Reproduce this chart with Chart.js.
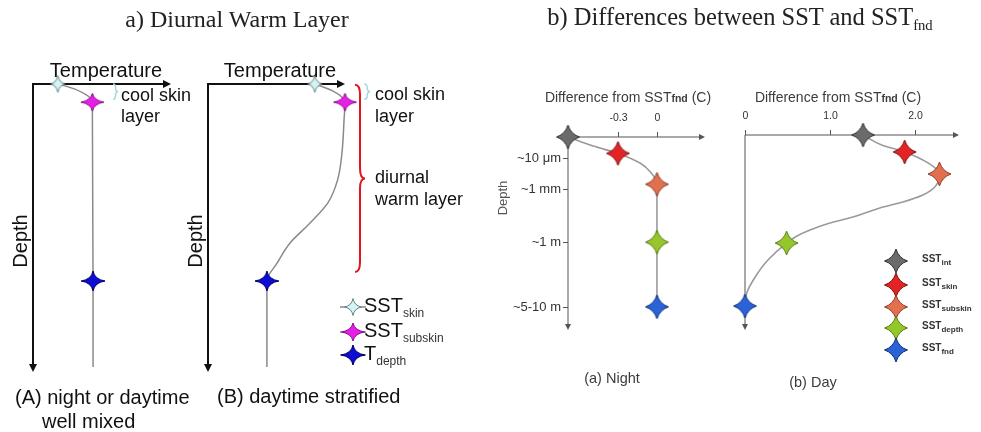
<!DOCTYPE html>
<html>
<head>
<meta charset="utf-8">
<script src="https://cdn.jsdelivr.net/npm/chart.js@4"></script>
<style>
  body { margin: 0; background: #fff; }
  #wrap { position: relative; width: 981px; height: 432px; overflow: hidden; background: #fff; }
  #wrap canvas.plot { position: absolute; left: 0; top: 0; }
  #wrap canvas.soft { filter: blur(0.45px); }
  .t { position: absolute; white-space: nowrap; line-height: 1; font-family: "Liberation Sans", Arial, sans-serif; color: #111; }
  .c { transform: translate(-50%, -50%); }
  .l { transform: translate(0, -50%); }
  .rot { transform: translate(-50%, -50%) rotate(-90deg); }
  .serif { font-family: "Liberation Serif", "Times New Roman", serif; color: #222; }
  .serif sub { font-size: 60%; vertical-align: -0.3em; }
  .big { font-size: 20px; }
  .small { font-size: 14px; color: #3c3c3c; filter: blur(0.35px); }
  .depthB { font-size: 13px; color: #555; }
  .fnd { font-size: 0.75em; font-weight: bold; }
  .leg { position: absolute; display: flex; align-items: center; }
  .leg canvas { display: block; }
  .legA { font-size: 20px; }
  .legA sub { font-size: 12px; vertical-align: -0.45em; color: #333; }
  .legB { font-size: 10px; font-weight: bold; color: #333; filter: blur(0.35px); }
  .legB sub { font-size: 8px; vertical-align: -0.4em; }
</style>
</head>
<body>
<div id="wrap">
  <canvas class="plot" id="chartA" width="981" height="432"></canvas>
  <canvas class="plot" id="chartB" width="981" height="432"></canvas>
  <canvas class="plot soft" id="chartNight" width="981" height="432"></canvas>
  <canvas class="plot soft" id="chartDay" width="981" height="432"></canvas>

  <div class="t c serif" style="left:237px;top:19px;font-size:24px">a) Diurnal Warm Layer</div>
  <div class="t c serif" style="left:740px;top:19px;font-size:24.5px">b) Differences between SST and SST<sub>fnd</sub></div>

  <!-- left pair: schematic profiles -->
  <div class="t c big" style="left:106px;top:70px">Temperature</div>
  <div class="t l" style="left:121px;top:95px;font-size:18px">cool skin</div>
  <div class="t l" style="left:121px;top:116px;font-size:18px">layer</div>
  <div class="t rot big" style="left:20px;top:241px">Depth</div>
  <div class="t l big" style="left:15px;top:397px">(A) night or daytime</div>
  <div class="t l big" style="left:42px;top:421px">well mixed</div>

  <div class="t c big" style="left:280px;top:70px">Temperature</div>
  <div class="t l" style="left:375px;top:94px;font-size:18px">cool skin</div>
  <div class="t l" style="left:375px;top:116px;font-size:18px">layer</div>
  <div class="t l" style="left:375px;top:177px;font-size:18px">diurnal</div>
  <div class="t l" style="left:375px;top:199px;font-size:18px">warm layer</div>
  <div class="t rot big" style="left:195px;top:241px">Depth</div>
  <div class="t l big" style="left:217px;top:396px">(B) daytime stratified</div>
  <div id="legendA"></div>

  <!-- right pair: differences from foundation temperature -->
  <div class="t c small" style="left:628px;top:97px">Difference from SST<span class="fnd">fnd</span> (C)</div>
  <div class="t c small" style="left:838px;top:97px">Difference from SST<span class="fnd">fnd</span> (C)</div>
  <div class="t rot depthB" style="left:502px;top:198px">Depth</div>
  <div class="t c small" style="left:612px;top:378px;font-size:14.5px">(a) Night</div>
  <div class="t c small" style="left:813px;top:382px;font-size:14.5px">(b) Day</div>
  <div id="legendB"></div>
</div>

<script>
// ---- left pair: temperature (% of axis) vs depth (% of axis) ----
const namesA = ['SST<sub>skin</sub>', 'SST<sub>subskin</sub>', 'T<sub>depth</sub>'];

const tempMixed = [18, 43, 43.5];
const depthMixed = [0, 6.3, 68.4];
const curveTempMixed = [18, 30, 43, 43.5, 43.5];
const curveDepthMixed = [0, 1.7, 6.3, 68.4, 98.3];

const tempStrat = [78, 100, 43];
const depthStrat = [0, 6.3, 68.4];
const curveTempStrat = [78, 91, 100, 99.3, 97.8, 94.6, 87.5, 74.5, 59.9, 50.4, 43, 43];
const curveDepthStrat = [0, 2.4, 6.3, 12.5, 23.9, 33.3, 41.3, 48.3, 55.2, 62.2, 68.4, 98.3];

// ---- right pair: difference from SSTfnd (C) vs depth position ----
const namesB = ['SST<sub>int</sub>', 'SST<sub>skin</sub>', 'SST<sub>subskin</sub>', 'SST<sub>depth</sub>', 'SST<sub>fnd</sub>'];

const diffNight = [-0.685, -0.3, 0, 0, 0];
const depthNight = [0, 0.85, 2.45, 5.45, 8.8];
const curveDiffNight = [-0.685, -0.49, -0.3, -0.13, -0.045, 0, 0, 0];
const curveDepthNight = [0, 0.47, 0.85, 1.35, 1.85, 2.45, 5.45, 8.8];

const diffDay = [1.39, 1.88, 2.29, 0.49, 0];
const depthDay = [0, 0.87, 2.0, 5.54, 8.77];
const curveDiffDay = [1.39, 1.61, 1.88, 2.15, 2.29, 2.235, 2.094, 1.859, 1.588, 1.271, 1.0, 0.765, 0.612, 0.49, 0.27, 0.12, 0.02, 0];
const curveDepthDay = [0, 0.51, 0.87, 1.42, 2.0, 2.67, 3.08, 3.44, 3.74, 4.21, 4.51, 4.87, 5.18, 5.54, 6.41, 7.28, 8.1, 8.77];

const nightTicks = [-0.3, 0];
const nightTickLabels = ['-0.3', '0'];
const dayTicks = [0, 1, 2];
const dayTickLabels = ['0', '1.0', '2.0'];
const depthTicks = [1.1, 2.7, 5.45, 8.8];
const depthTickLabels = ['~10 \u03bcm', '~1 mm', '~1 m', '~5-10 m'];

// four-pointed star marker
function drawStar(g, cx, cy, rx, ry, pinch, fill, stroke, lw) {
  g.beginPath();
  g.moveTo(cx + rx, cy);
  g.quadraticCurveTo(cx + pinch, cy + pinch, cx, cy + ry);
  g.quadraticCurveTo(cx - pinch, cy + pinch, cx - rx, cy);
  g.quadraticCurveTo(cx - pinch, cy - pinch, cx, cy - ry);
  g.quadraticCurveTo(cx + pinch, cy - pinch, cx + rx, cy);
  g.closePath();
  g.fillStyle = fill;
  g.fill();
  g.lineWidth = lw;
  g.strokeStyle = stroke;
  g.stroke();
}

function starImage(s) {
  const c = document.createElement('canvas');
  c.width = Math.ceil(2 * s.rx + 4);
  c.height = Math.ceil(2 * s.ry + 4);
  drawStar(c.getContext('2d'), c.width / 2, c.height / 2, s.rx, s.ry, s.pinch, s.fill, s.stroke, s.lw);
  return c;
}

const starsA = [
  { rx: 7.5, ry: 8.5, pinch: 1.3, fill: '#d6f3f3', stroke: '#5f8485', lw: 1 },
  { rx: 11.5, ry: 9, pinch: 1.6, fill: '#e61ee6', stroke: '#8a108a', lw: 1 },
  { rx: 12, ry: 10, pinch: 1.6, fill: '#0c0cd2', stroke: '#000066', lw: 1 }
];
const starsB = [
  { rx: 11.5, ry: 12, pinch: 2.8, fill: '#6b6b6b', stroke: '#343434', lw: 1 },
  { rx: 11.5, ry: 12, pinch: 2.8, fill: '#e42424', stroke: '#7c1212', lw: 1 },
  { rx: 11.5, ry: 12, pinch: 2.8, fill: '#e2704f', stroke: '#8c3d2a', lw: 1 },
  { rx: 11.5, ry: 12, pinch: 2.8, fill: '#95c62b', stroke: '#5a7a12', lw: 1 },
  { rx: 11.5, ry: 12, pinch: 2.8, fill: '#2a62d8', stroke: '#10307a', lw: 1 }
];
const imgA = starsA.map(starImage);
const imgB = starsB.map(starImage);

function arrowHead(ctx, x, y, dir, len, half) {
  ctx.beginPath();
  if (dir === 'right') {
    ctx.moveTo(x, y); ctx.lineTo(x - len, y - half); ctx.lineTo(x - len, y + half);
  } else {
    ctx.moveTo(x, y); ctx.lineTo(x - half, y - len); ctx.lineTo(x + half, y - len);
  }
  ctx.closePath();
  ctx.fill();
}

function brace(ctx, x, y0, y1, w) {
  const m = (y0 + y1) / 2;
  const r = Math.min(w, (y1 - y0) / 4);
  const xm = x + w / 2;
  ctx.beginPath();
  ctx.moveTo(x, y0);
  ctx.quadraticCurveTo(xm, y0, xm, y0 + r);
  ctx.lineTo(xm, m - r);
  ctx.quadraticCurveTo(xm, m, x + w, m);
  ctx.quadraticCurveTo(xm, m, xm, m + r);
  ctx.lineTo(xm, y1 - r);
  ctx.quadraticCurveTo(xm, y1, x, y1);
  ctx.stroke();
}

// axes with arrows, ticks and braces, drawn under the profile
const framePlugin = {
  id: 'frame',
  beforeDatasetsDraw(chart, args, o) {
    const { ctx, chartArea: a, scales: { x, y } } = chart;
    ctx.save();
    ctx.strokeStyle = o.color;
    ctx.fillStyle = o.color;
    ctx.lineWidth = o.width;
    ctx.beginPath();
    ctx.moveTo(a.left, a.bottom - o.arrow + 1);
    ctx.lineTo(a.left, a.top);
    ctx.lineTo(a.right - o.arrow + 1, a.top);
    ctx.stroke();
    arrowHead(ctx, a.right, a.top, 'right', o.arrow, o.arrow / 2);
    arrowHead(ctx, a.left, a.bottom, 'down', o.arrow, o.arrow / 2);

    ctx.font = '10.5px "Liberation Sans", Arial, sans-serif';
    ctx.textBaseline = 'middle';
    ctx.lineWidth = 1;
    (o.xTicks || []).forEach((v, i) => {
      const px = Math.round(x.getPixelForValue(v)) + 0.5;
      ctx.beginPath();
      ctx.moveTo(px, a.top);
      ctx.lineTo(px, a.top - 5);
      ctx.stroke();
      ctx.textAlign = 'center';
      ctx.fillStyle = '#333';
      ctx.fillText(o.xLabels[i], px, a.top - 19);
    });
    ctx.font = '13px "Liberation Sans", Arial, sans-serif';
    (o.yTicks || []).forEach((v, i) => {
      const py = Math.round(y.getPixelForValue(v)) + 0.5;
      ctx.beginPath();
      ctx.moveTo(a.left, py);
      ctx.lineTo(a.left - 5, py);
      ctx.stroke();
      ctx.textAlign = 'right';
      ctx.fillStyle = '#333';
      ctx.fillText(o.yLabels[i], a.left - 7, py);
    });

    (o.braces || []).forEach(b => {
      ctx.strokeStyle = b.color;
      ctx.lineWidth = b.lw;
      brace(ctx, x.getPixelForValue(b.x), y.getPixelForValue(b.y0), y.getPixelForValue(b.y1), b.w);
    });
    ctx.restore();
  }
};

function toPoints(xs, ys) {
  return xs.map((v, i) => ({ x: v, y: ys[i] }));
}

// depth is the index axis, so the monotone spline follows the profile downwards
function makeChart(id, area, xr, yr, stars, imgs, curve, line, frame) {
  return new Chart(document.getElementById(id), {
    type: 'scatter',
    data: {
      datasets: [
        {
          data: stars,
          pointStyle: imgs,
          pointRadius: 10,
          showLine: false,
          clip: false
        },
        {
          data: curve,
          showLine: true,
          pointRadius: 0,
          borderColor: line.color,
          borderWidth: line.width,
          cubicInterpolationMode: 'monotone',
          clip: false
        }
      ]
    },
    options: {
      indexAxis: 'y',
      responsive: false,
      animation: false,
      events: [],
      devicePixelRatio: 1,
      layout: { padding: { left: area[0], top: area[1], right: 981 - area[2], bottom: 432 - area[3] } },
      scales: {
        x: { type: 'linear', axis: 'x', display: false, min: xr[0], max: xr[1] },
        y: { type: 'linear', axis: 'y', display: false, reverse: true, min: yr[0], max: yr[1] }
      },
      plugins: { legend: { display: false }, tooltip: { enabled: false }, frame: frame }
    },
    plugins: [framePlugin]
  });
}

makeChart('chartA', [33, 84, 171, 372], [0, 100], [0, 100],
  toPoints(tempMixed, depthMixed), imgA,
  toPoints(curveTempMixed, curveDepthMixed),
  { color: '#8a8a8a', width: 1.5 },
  { color: '#111', width: 2, arrow: 8,
    braces: [{ x: 58, y0: 0, y1: 5.3, w: 5, color: '#a9d6e6', lw: 1.5 }] });

makeChart('chartB', [208, 84, 345, 372], [0, 100], [0, 100],
  toPoints(tempStrat, depthStrat), imgA,
  toPoints(curveTempStrat, curveDepthStrat),
  { color: '#8a8a8a', width: 1.5 },
  { color: '#111', width: 2, arrow: 8,
    braces: [
      { x: 107.3, y0: 0.3, y1: 65.3, w: 10, color: '#e4141e', lw: 2 },
      { x: 114, y0: 0, y1: 5.3, w: 6, color: '#a9d6e6', lw: 1.5 }
    ] });

makeChart('chartNight', [568, 137, 705, 330], [-0.685, 0.37], [0, 10],
  toPoints(diffNight, depthNight), imgB,
  toPoints(curveDiffNight, curveDepthNight),
  { color: '#9a9a9a', width: 1.6 },
  { color: '#555', width: 1, arrow: 6,
    xTicks: nightTicks, xLabels: nightTickLabels,
    yTicks: depthTicks, yLabels: depthTickLabels });

makeChart('chartDay', [745, 135, 959, 330], [0, 2.52], [0, 10],
  toPoints(diffDay, depthDay), imgB,
  toPoints(curveDiffDay, curveDepthDay),
  { color: '#9a9a9a', width: 1.6 },
  { color: '#555', width: 1, arrow: 6,
    xTicks: dayTicks, xLabels: dayTickLabels });

// legends: star icon plus label
function buildLegend(id, names, stars, opt) {
  const box = document.getElementById(id);
  names.forEach((name, i) => {
    const row = document.createElement('div');
    row.className = 'leg ' + opt.cls;
    row.style.left = opt.left + 'px';
    row.style.top = (opt.rows[i] - opt.h / 2) + 'px';
    row.style.height = opt.h + 'px';
    const icon = document.createElement('canvas');
    icon.width = opt.iconW;
    icon.height = opt.h;
    const g = icon.getContext('2d');
    if (opt.stem) {
      g.strokeStyle = '#888';
      g.lineWidth = 1.5;
      g.beginPath();
      g.moveTo(0, opt.h / 2);
      g.lineTo(opt.iconW, opt.h / 2);
      g.stroke();
    }
    const s = stars[i];
    drawStar(g, opt.iconW / 2, opt.h / 2, s.rx, s.ry, s.pinch, s.fill, s.stroke, s.lw);
    const label = document.createElement('span');
    label.innerHTML = name;
    label.style.marginLeft = opt.gap + 'px';
    row.appendChild(icon);
    row.appendChild(label);
    box.appendChild(row);
  });
}

buildLegend('legendA', namesA, [
  { rx: 8.5, ry: 8.5, pinch: 1.3, fill: '#d6f3f3', stroke: '#5f8485', lw: 1 },
  starsA[1], starsA[2]
], { cls: 'legA t', left: 340, rows: [307, 332, 355], h: 22, iconW: 26, gap: -2, stem: true });

buildLegend('legendB', namesB, starsB,
  { cls: 'legB t', left: 884, rows: [261, 285, 307, 328, 350], h: 24, iconW: 24, gap: 14, stem: false });
</script>
</body>
</html>
